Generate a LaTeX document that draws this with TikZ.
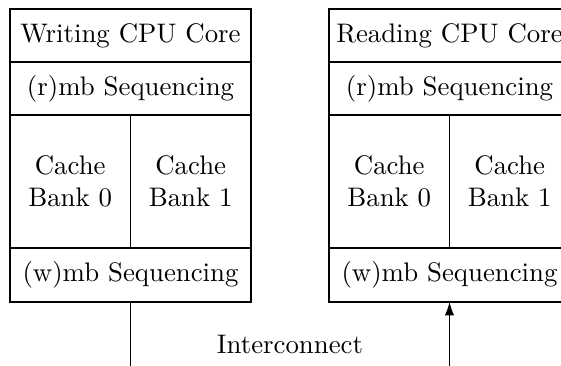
\documentclass[tikz,border=0pt]{standalone}
\usetikzlibrary{arrows.meta}
\begin{document}
\begin{tikzpicture}[x=0.373pt,y=-0.373pt,
  cell/.style={draw,line width=0.4pt,inner sep=0pt,outer sep=0pt,anchor=north west,align=center,font=\normalsize},
  wide/.style={cell,minimum width=241*0.373pt,minimum height=53*0.373pt},
  bank/.style={cell,minimum width=120.5*0.373pt,minimum height=133*0.373pt},
  conn/.style={draw,line width=0.4pt}]
\useasboundingbox (0,0) rectangle (561,365);
% writing core
\node[wide] (wcore) at (10,9) {Writing CPU Core};
\node[wide] (wr) at (10,62) {(r)mb Sequencing};
\node[bank] (wc0) at (10,115) {Cache\\Bank 0};
\node[bank] (wc1) at (130.5,115) {Cache\\Bank 1};
\node[wide,minimum height=54*0.373pt] (ww) at (10,248) {(w)mb Sequencing};
% reading core
\node[wide] (rcore) at (329,9) {Reading CPU Core};
\node[wide] (rr) at (329,62) {(r)mb Sequencing};
\node[bank] (rc0) at (329,115) {Cache\\Bank 0};
\node[bank] (rc1) at (449.5,115) {Cache\\Bank 1};
\node[wide,minimum height=54*0.373pt] (rw) at (329,248) {(w)mb Sequencing};
% interconnect
\coordinate (wend) at (130.5,366);
\coordinate (rend) at (449.5,366);
\node (ic) at (290,344) {Interconnect};
\draw[conn] (ww.south) -- (wend);
\draw[conn,-{Latex[length=5pt,width=3.5pt]}] (rend) -- (rw.south);
\end{tikzpicture}
\end{document}
